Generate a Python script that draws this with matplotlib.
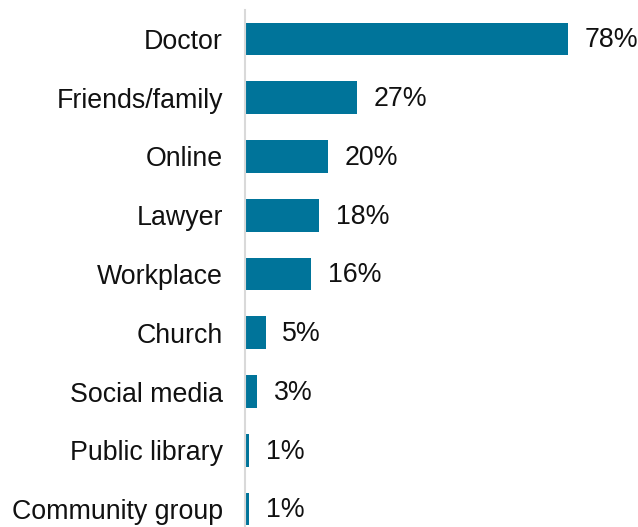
import matplotlib.pyplot as plt

plt.rcParams['font.family'] = ['Liberation Sans', 'DejaVu Sans']

sources = ["Doctor", "Friends/family", "Online", "Lawyer", "Workplace",
           "Church", "Social media", "Public library", "Community group"]
shares = [78, 27, 20, 18, 16, 5, 3, 1, 1]

fig = plt.figure(figsize=(6.38, 5.27), dpi=100)
ax = fig.add_axes([245 / 638, 1 - 538.4 / 527, 1 - 245 / 638, 528.8 / 527])

ypos = range(len(sources))
ax.barh(ypos, shares, height=0.56, color='#00749a')
for y, v in zip(ypos, shares):
    ax.annotate(f"{v}%", (v, y), xytext=(12, -1), textcoords='offset points',
                va='center', ha='left', fontsize=19.3, color='#111111')

ax.set_yticks(list(ypos))
ax.set_yticklabels(sources, fontsize=19.3, color='#111111')
ax.tick_params(axis='y', length=0, pad=16)
ax.set_ylim(8.5, -0.5)
ax.set_xlim(0, 95)
ax.set_xticks([])
for side in ['top', 'right', 'bottom']:
    ax.spines[side].set_visible(False)
ax.spines['left'].set_color('#d9d9d9')
ax.spines['left'].set_linewidth(1.5)

fig.savefig('out.png', dpi=100)
